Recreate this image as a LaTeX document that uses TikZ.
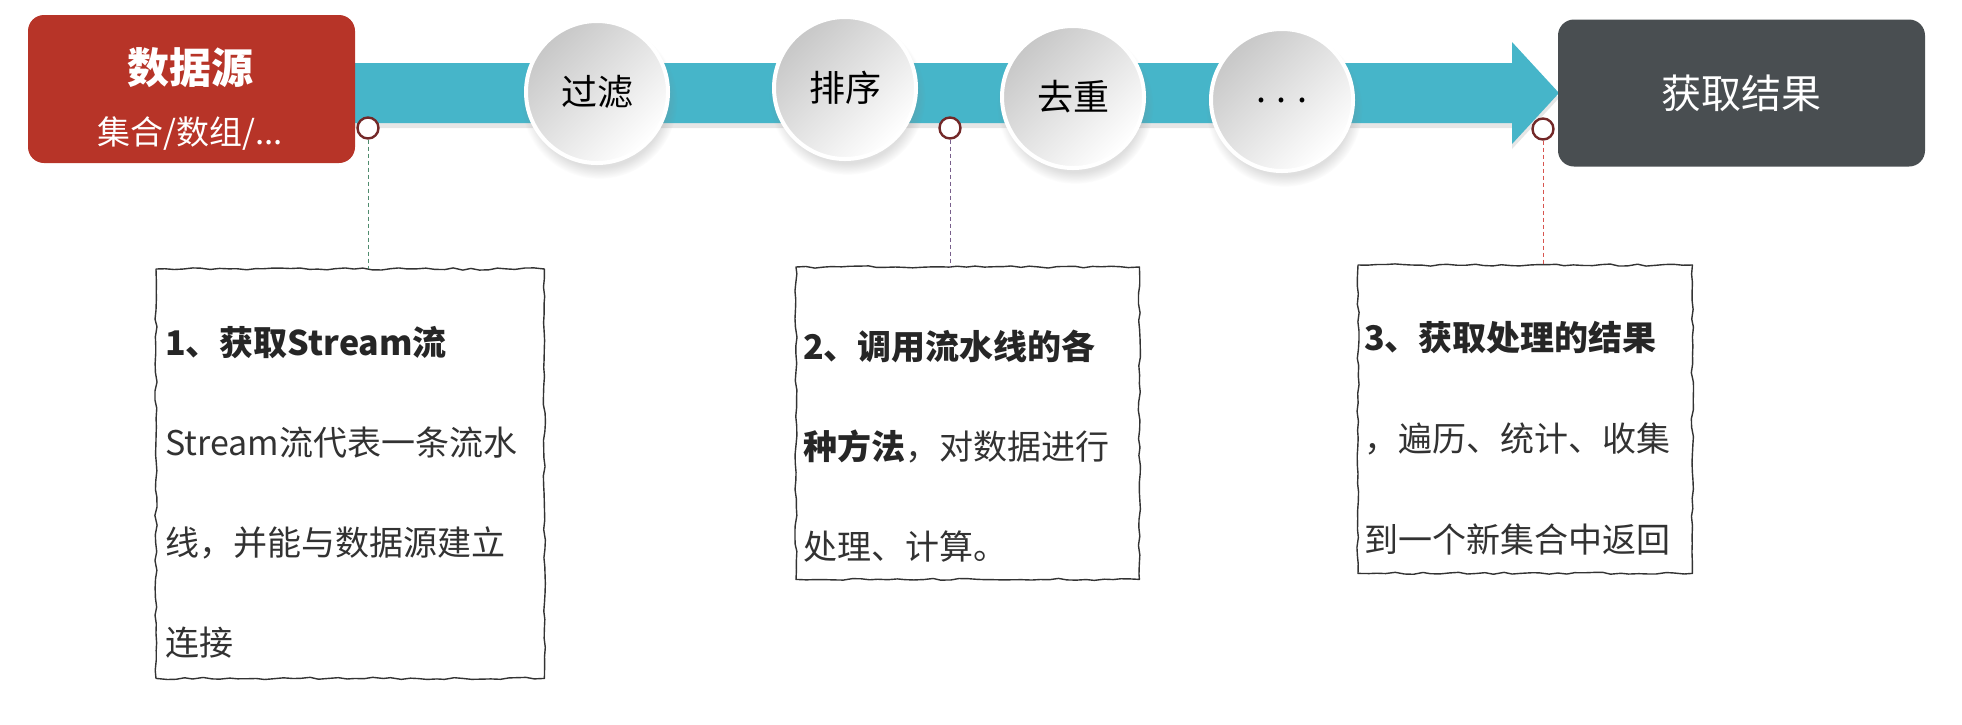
\documentclass[tikz,border=0pt]{standalone}
\usepackage{fontspec}
\setmainfont{Noto Sans CJK SC}
\usetikzlibrary{shadows,fadings,decorations.pathmorphing,shapes.geometric}

\definecolor{redbox}{RGB}{183,52,40}
\definecolor{tealbar}{RGB}{70,181,201}
\definecolor{graybox}{RGB}{73,78,81}
\definecolor{ringred}{RGB}{115,40,40}
\definecolor{dashgreen}{RGB}{80,140,110}
\definecolor{dashpurple}{RGB}{120,95,140}
\definecolor{dashred}{RGB}{215,85,80}
\definecolor{txt}{RGB}{50,50,50}

\begin{document}
\begin{tikzpicture}[x=1pt,y=-1pt,
  ball/.style={circle, minimum size=142, inner sep=0, draw=white, line width=4,
    top color=black!22, bottom color=white, shading angle=45,
    circular drop shadow={shadow xshift=2pt, shadow yshift=-8pt, opacity=0.25},
    font=\fontsize{36}{40}\selectfont, text=black},
  ring/.style={circle, draw=ringred, fill=white, line width=2.4, minimum size=21, inner sep=0},
  conn/.style={line width=1, dash pattern=on 4pt off 3pt},
  notebox/.style={rectangle, inner sep=0, anchor=north west},
  sketchline/.style={draw=black!80, line width=1.4, line join=round, decorate,
    decoration={random steps, segment length=9pt, amplitude=1.1pt}},
  boxtext/.style={anchor=base west, inner sep=0, text=txt, align=left},
  solid box/.style={rectangle, rounded corners=16, inner sep=0, text=white}
]
\pgfmathsetseed{7}
\useasboundingbox (0,0) rectangle (1962,724);

% pipeline bar with arrow head
\fill[tealbar, drop shadow={opacity=0.2, shadow xshift=0pt, shadow yshift=-5pt}]
  (340,63) -- (1512,63) -- (1512,42) -- (1559,93) -- (1512,144) -- (1512,123) -- (340,123) -- cycle;

% source and result boxes
\node[solid box, fill=redbox, minimum width=327, minimum height=148] (src) at (191.5,89) {};
\node[text=white, font=\fontsize{42}{46}\selectfont\bfseries] (srcT) at (190,68) {数据源};
\node[text=white, font=\fontsize{33}{36}\selectfont] (srcS) at (190,134) {集合/数组/...};

\node[solid box, fill=graybox, minimum width=367, minimum height=147,
  font=\fontsize{40}{44}\selectfont] (res) at (1741.5,93) {获取结果};

% operation balls
\node[ball] (b1) at (597,92) {过滤};
\node[ball] (b2) at (845,88) {排序};
\node[ball] (b3) at (1073,97) {去重};
\node[ball] (b4) at (1282,100) {. . .};

% rings
\node[ring] (r1) at (368,128) {};
\node[ring] (r2) at (950,128) {};
\node[ring] (r3) at (1543,129) {};

% note boxes
\node[notebox, minimum width=388, minimum height=409] (n1) at (156,269) {};
\node[notebox, minimum width=343, minimum height=312] (n2) at (796,267) {};
\node[notebox, minimum width=334, minimum height=308] (n3) at (1358,265) {};
\foreach \n in {n1,n2,n3}{
  \draw[sketchline] (\n.north west) -- (\n.north east) -- (\n.south east) -- (\n.south west) -- cycle;
}

% connectors
\draw[conn, dashgreen] (r1.south) -- (r1.south |- n1.north);
\draw[conn, dashpurple] (r2.south) -- (r2.south |- n2.north);
\draw[conn, dashred] (r3.south) -- (r3.south |- n3.north);

% note texts
\node[boxtext] (t1) at (165,326) {\parbox[t]{370pt}{\fontsize{34}{100}\selectfont
  {\bfseries\color{black!85}1、获取Stream流}\\
  Stream流代表一条流水\\
  线，并能与数据源建立\\
  连接}};
\node[boxtext] (t2) at (803,330) {\parbox[t]{330pt}{\fontsize{34}{100}\selectfont
  {\bfseries\color{black!85}2、调用流水线的各}\\
  {\bfseries\color{black!85}种方法}，对数据进行\\
  处理、计算。}};
\node[boxtext] (t3) at (1364,321) {\parbox[t]{325pt}{\fontsize{34}{101}\selectfont
  {\bfseries\color{black!85}3、获取处理的结果}\\
  ，遍历、统计、收集\\
  到一个新集合中返回}};
\end{tikzpicture}
\end{document}
